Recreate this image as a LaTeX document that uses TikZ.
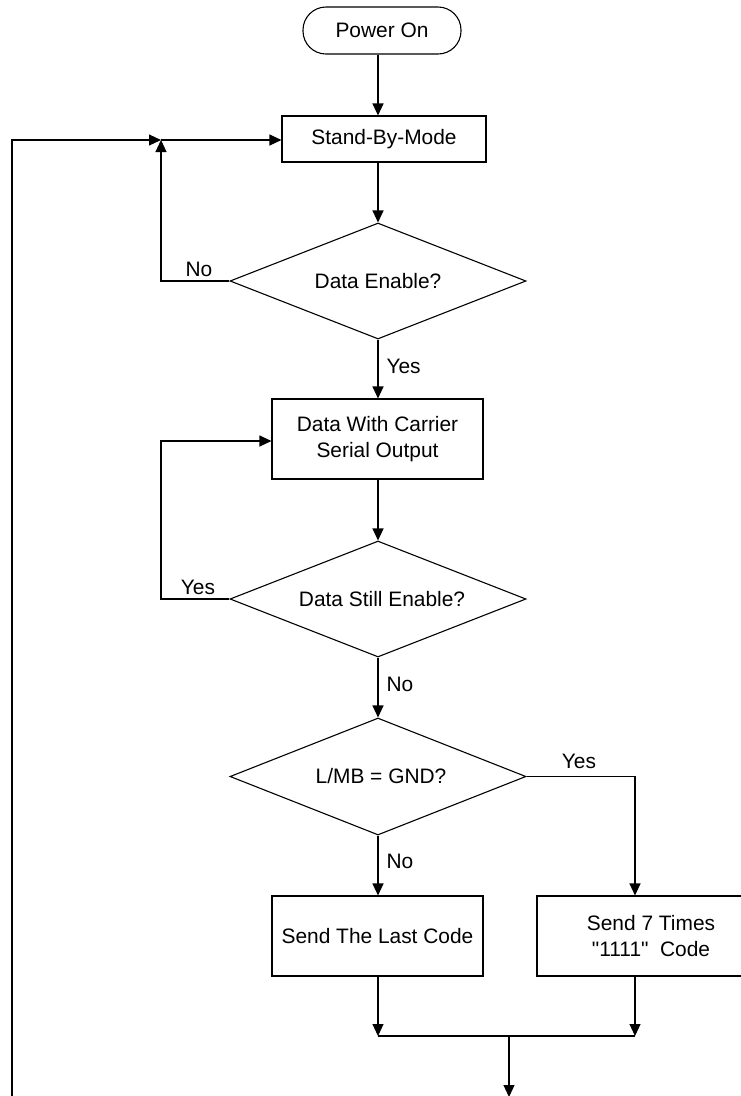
\documentclass[tikz,border=0pt]{standalone}
\usepackage{fontspec}
\setmainfont{Liberation Sans}
% same face without the TeX quote mapping, for straight quotes
\newfontfamily\plainquotes{Liberation Sans}
\usetikzlibrary{shapes.geometric,arrows.meta}
\begin{document}
\begin{tikzpicture}[x=1pt,y=-1pt,
  font=\fontsize{20.9}{26.5}\selectfont,
  line width=1.1pt,
  arr/.style={-{Triangle[length=12pt,width=11pt]}},
  procbox/.style={draw,rectangle,inner sep=0pt,align=center},
  decision/.style={draw,diamond,inner sep=0pt,aspect=2.55,
    minimum width=296pt,minimum height=116pt},
  terminal/.style={draw,rectangle,rounded corners=23pt,
    minimum width=158pt,minimum height=47pt},
  lbl/.style={inner sep=0pt}]
\useasboundingbox (0,0) rectangle (740,1096);

% main column
\node[terminal] (pwr) at (382,30.5) {Power On};
\node[procbox,minimum width=204pt,minimum height=46pt] (sb) at (384,139) {Stand-By-Mode};
\node[decision] (d1) at (378,281) {Data Enable?};
\node[procbox,minimum width=211pt,minimum height=80pt] (dwc) at (377.5,439)
  {Data With Carrier\\Serial Output};
\node[decision] (d2) at (378,599) {\hspace*{8pt}Data Still Enable?};
\node[decision,minimum height=117pt] (d3) at (378,776.5) {\hspace*{6pt}L/MB = GND?};
\node[procbox,minimum width=211pt,minimum height=80pt] (sl) at (377.5,936)
  {Send The Last Code};
\node[procbox,minimum width=228pt,minimum height=80pt] (s7) at (651,936)
  {Send 7 Times\\{\plainquotes "1111"\ \ Code}};

% branch labels
\node[lbl] (noA) at (199,269) {No};
\node[lbl,anchor=west] (yesA) at (386,366) {Yes};
\node[lbl] (yesB) at (198,587) {Yes};
\node[lbl,anchor=west] (noB) at (386,684) {No};
\node[lbl] (yesC) at (579,761) {Yes};
\node[lbl,anchor=west] (noC) at (386,861) {No};

% helper points
\coordinate (j) at (161,140);
\coordinate (k) at (161,441);
\coordinate (rx) at (635,0);
\coordinate (ml) at (378,1036);
\coordinate (mr) at (635,1036);
\coordinate (mc) at (509,1036);
\coordinate (out) at (509,1097);
\coordinate (corner) at (12,1097);

% straight flow
\draw[arr] (d1.north |- pwr.south) -- (d1.north |- sb.north);
\draw[arr] (d1.north |- sb.south) -- (d1.north);
\draw[arr] (d1.south) -- (d1.south |- dwc.north);
\draw[arr] (d2.north |- dwc.south) -- (d2.north);
\draw[arr] (d2.south) -- (d3.north);
\draw[arr] (d3.south) -- (d3.south |- sl.north);
\draw[arr] (d3.east) -| (rx |- s7.north);

% loops back
\draw[arr] (d1.west) -| (j);
\draw[arr] (j) -- (sb.west |- j);
\draw[arr] (corner) |- (j);
\draw[arr] (d2.west) -| (k) -- (dwc.west |- k);

% merge at the bottom
\draw[arr] (ml |- sl.south) -- (ml);
\draw[arr] (mr |- s7.south) -- (mr);
\draw (ml) -- (mr);
\draw[arr] (mc) -- (out);
\draw (out) -- (corner);
\end{tikzpicture}
\end{document}
